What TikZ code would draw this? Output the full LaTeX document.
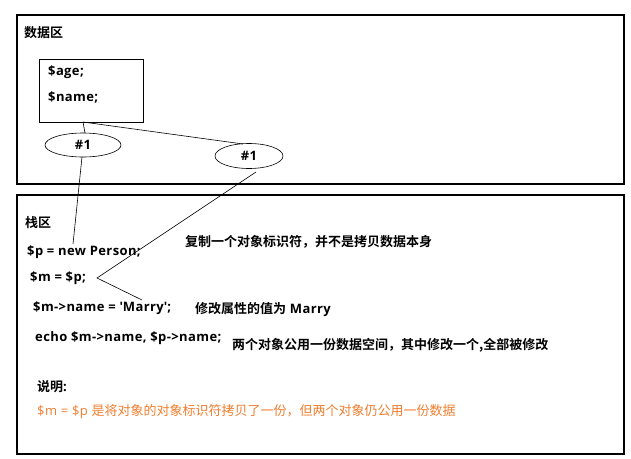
\documentclass[tikz,border=0pt]{standalone}
\usepackage{fontspec}
\usetikzlibrary{shapes.geometric}
\setmainfont{Open Sans}[LetterSpace=3]
\newfontfamily\cjk{Noto Sans CJK SC}[BoldFont={* Bold}]
\definecolor{noteorange}{RGB}{240,125,45}
\begin{document}
\begin{tikzpicture}[x=1pt,y=-1pt,
  region/.style={draw=black,line width=1.2pt},
  membox/.style={draw=black,line width=0.8pt},
  oid/.style={draw=black,line width=0.6pt,ellipse,inner sep=0pt,font=\fontsize{13}{15}\selectfont\bfseries},
  txt/.style={anchor=west,inner sep=0pt,font=\fontsize{13}{15}\selectfont\bfseries},
  note/.style={anchor=west,inner sep=0pt,font=\fontsize{13}{15}\selectfont},
  link/.style={draw=black,line width=0.6pt}]
\useasboundingbox (0,0) rectangle (631,458);
% regions
\draw[region] (17,15) rectangle (624,184);
\draw[region] (17,195) rectangle (624,454);
\node[txt] (dataLabel) at (24,33) {\cjk 数据区};
\node[txt] (stackLabel) at (25,223) {\cjk 栈区};
% object data box
\node[membox,minimum width=104pt,minimum height=63pt,inner sep=0pt] (obj) at (91,90.5) {};
\node[txt] (age) at (48,72) {\$age;};
\node[txt] (name) at (48,97) {\$name;};
% object identifiers
\node[oid,minimum width=76pt,minimum height=24pt] (id1) at (83,145) {\#1};
\node[oid,minimum width=68pt,minimum height=25pt] (id2) at (249,156) {\#1};
\coordinate (objb) at (83,122);
\coordinate (e1t) at (85,133);
\coordinate (e2t) at (243,144);
\coordinate (e1b) at (82,157);
\coordinate (e2b) at (256,172);
\coordinate (pEnd) at (73,244);
\coordinate (mTip) at (97,278);
\coordinate (mEnd) at (142,300);
\draw[link] (objb) -- (e1t);
\draw[link] (objb) -- (e2t);
\draw[link] (e1b) -- (pEnd);
\draw[link] (e2b) -- (mTip) -- (mEnd);
% code
\node[txt] (c1) at (27,252) {\$p = new Person;};
\node[txt] (c2) at (30,278) {\$m = \$p;};
\node[txt] (c3) at (33,308) {\$m->name = \textquotesingle Marry\textquotesingle;};
\node[txt] (c4) at (35,338) {echo \$m->name, \$p->name;};
% comments
\node[txt] (n1) at (185,242) {\cjk 复制一个对象标识符，并不是拷贝数据本身};
\node[txt] (n2) at (195,310) {{\cjk 修改属性的值为} Marry};
\node[txt] (n3) at (232,345) {\cjk 两个对象公用一份数据空间，其中修改一个,全部被修改};
\node[txt] (expl) at (37,387) {{\cjk 说明}:};
\node[note,text=noteorange] (expl2) at (37,412) {\$m = \$p {\cjk 是将对象的对象标识符拷贝了一份，但两个对象仍公用一份数据}};
\end{tikzpicture}
\end{document}
